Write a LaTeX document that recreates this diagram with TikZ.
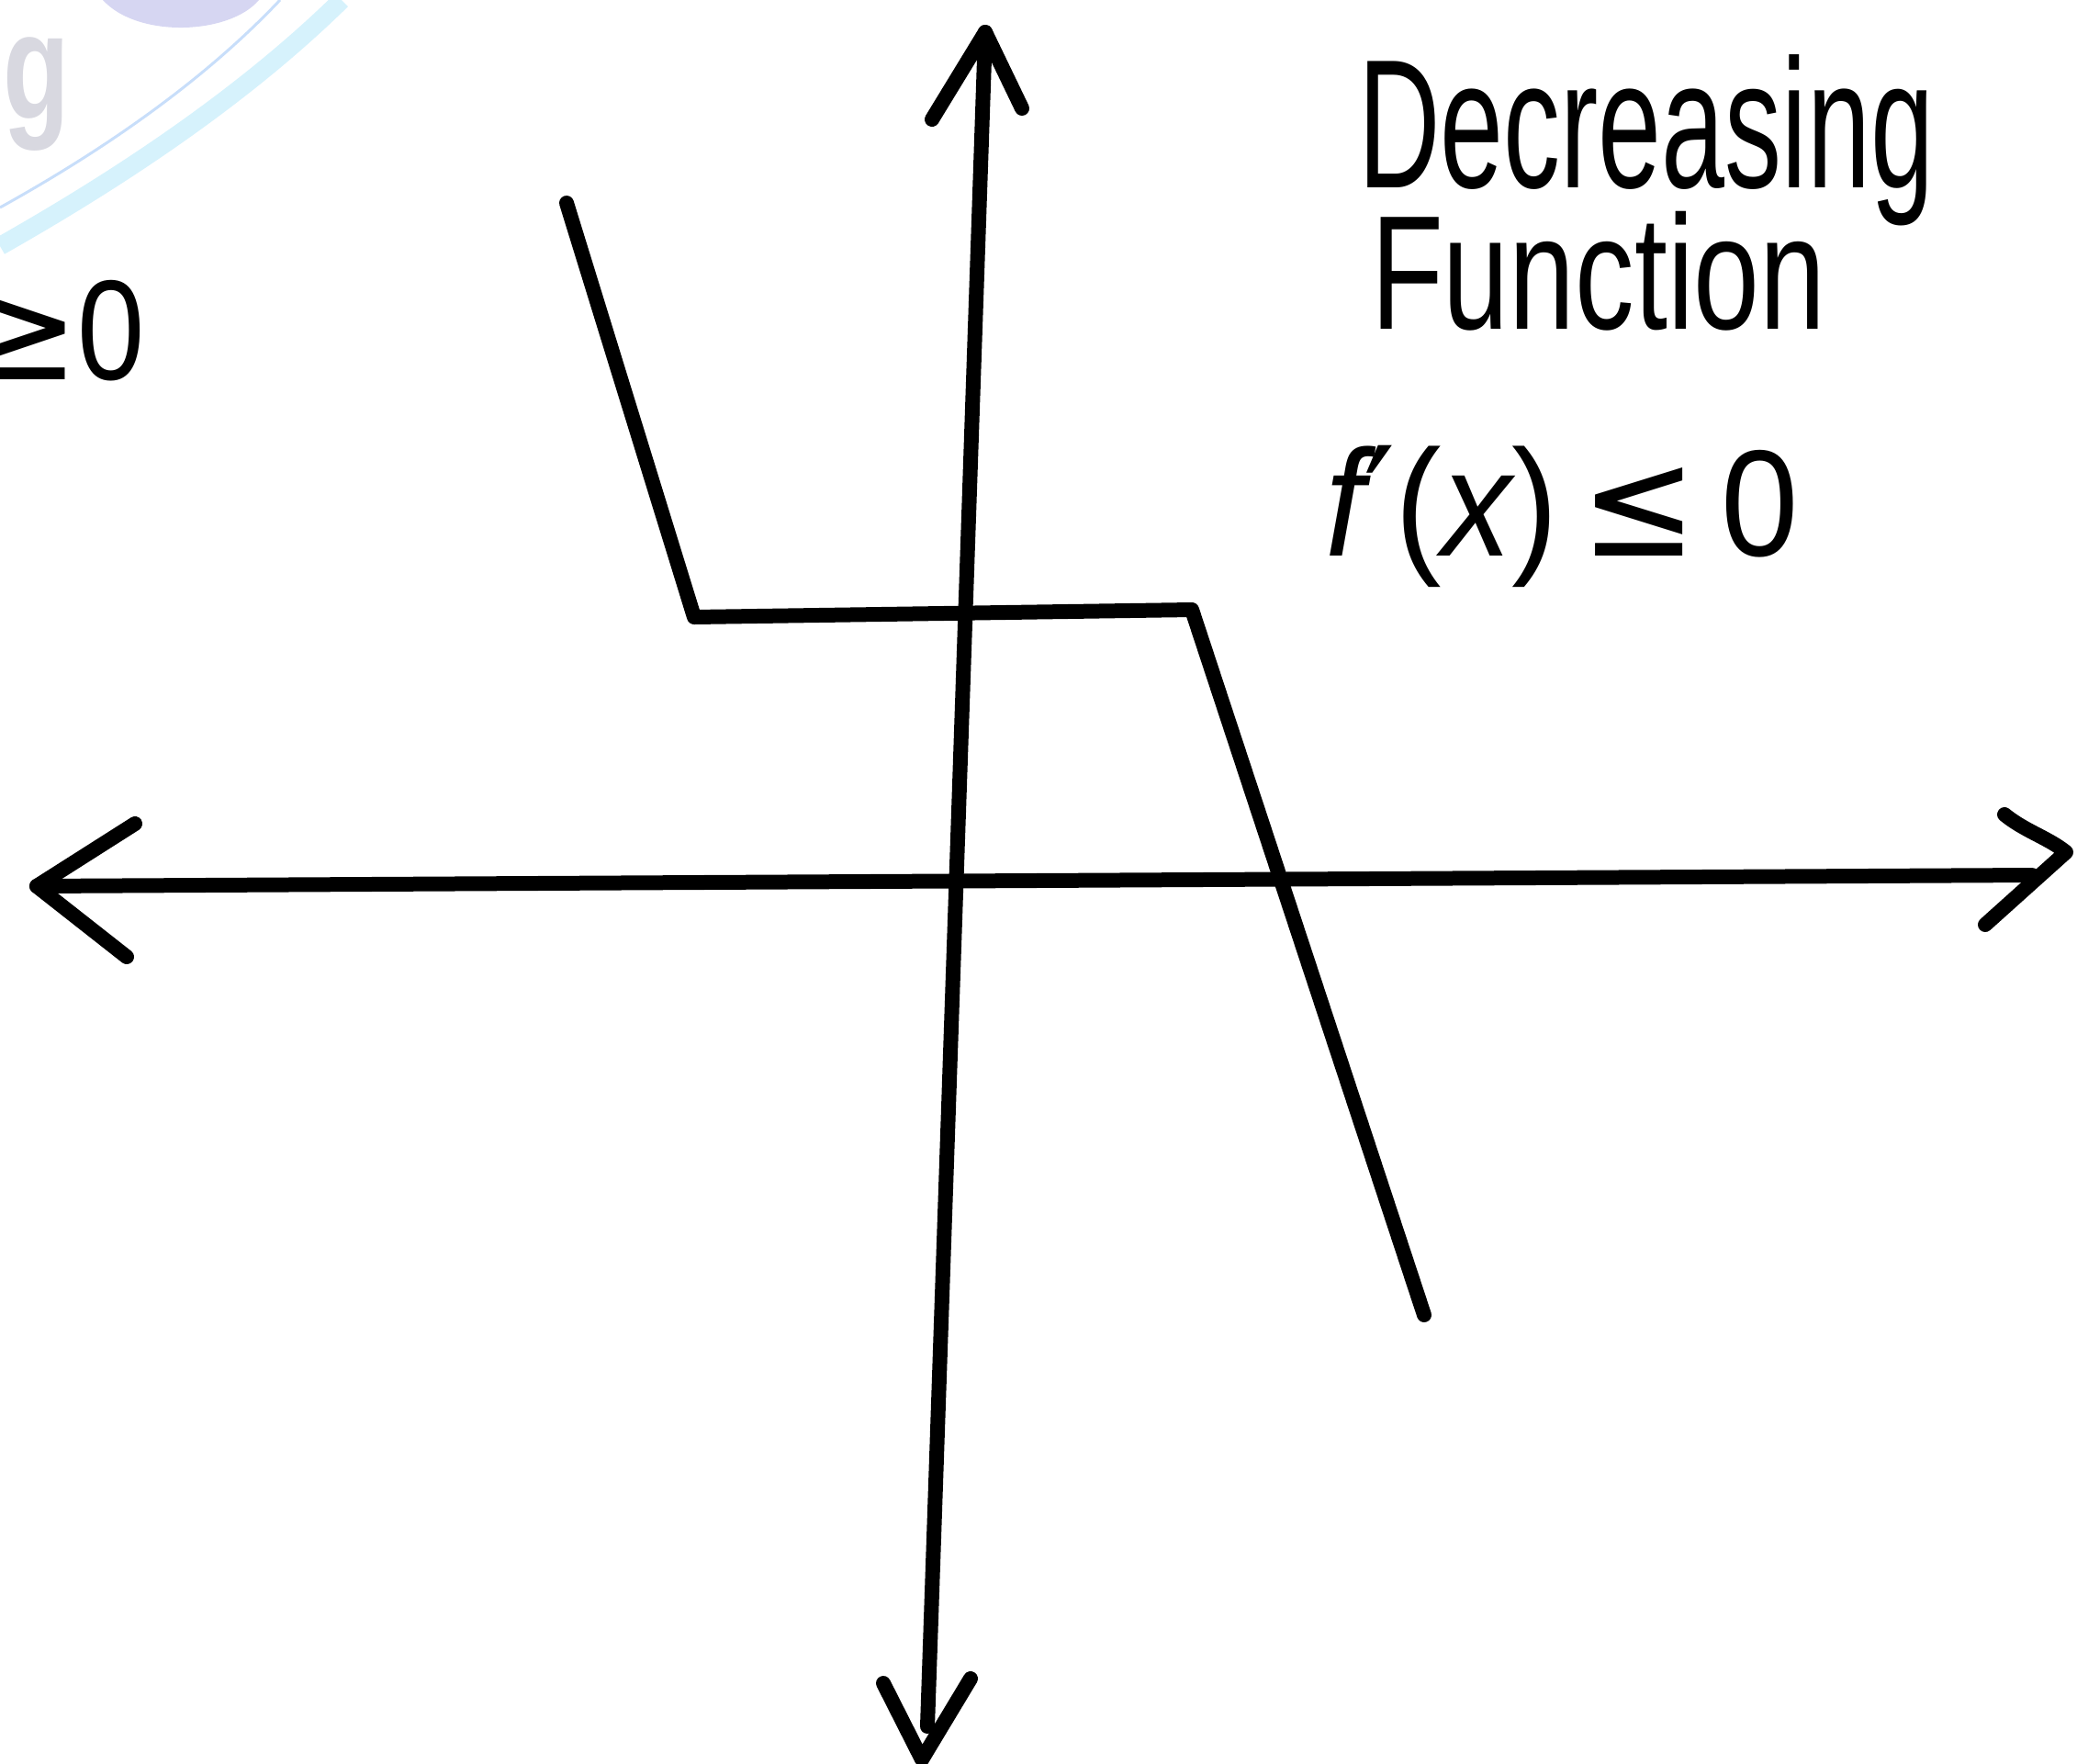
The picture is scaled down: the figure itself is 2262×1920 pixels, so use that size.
\documentclass[tikz,border=0pt]{standalone}
\usepackage{fontspec}
\setmainfont{Liberation Sans}
\newfontfamily\symfont{DejaVu Sans}
\begin{document}
\begin{tikzpicture}[x=1pt,y=-1pt,
  ink/.style={line width=16pt,line cap=round,line join=round,black},
  txt/.style={inner sep=0pt,outer sep=0pt}]
\useasboundingbox (0,0) rectangle (2262,1920);
\clip (0,0) rectangle (2262,1920);
% watermark remnants
\definecolor{wmgray}{RGB}{216,216,224}
\definecolor{wmlav}{RGB}{214,214,242}
\definecolor{wmblue}{RGB}{200,222,250}
\definecolor{wmcyan}{RGB}{214,242,252}
\fill[wmlav] (112,0) .. controls (150,42) and (250,38) .. (282,0) -- cycle;
\draw[wmcyan,line width=20pt] (0,268) .. controls (120,200) and (260,110) .. (372,0);
\draw[wmblue,line width=3pt] (0,226) .. controls (110,165) and (220,90) .. (305,0);
\node[txt,anchor=base west,text=wmgray] (wmg) at (4,129)
  {\scalebox{0.72}[1]{\fontsize{165}{165}\selectfont\bfseries g}};
% cut-off label at left
\node[txt,anchor=base east] (gez) at (158,413)
  {\scalebox{0.85}[1]{\fontsize{155}{155}\selectfont{\symfont ≥}0}};
% axes
\coordinate (xl) at (40,965);
\coordinate (xr) at (2213,953);
\coordinate (yt) at (1073,35);
\coordinate (yb) at (1010,1880);
\draw[ink] (xl) -- (xr);
\draw[ink] (yt) -- (yb);
% hand-drawn arrow heads
\draw[ink] (147,897) -- (xl) -- (138,1042);
\draw[ink] (2183,887) .. controls (2205,905) and (2230,912) .. (2250,928) -- (2162,1007);
\draw[ink] (1015,130) -- (yt) -- (1113,118);
\draw[ink] (962,1833) -- (1004,1916) -- (1057,1828);
% function graph
\coordinate (f0) at (617,221);
\coordinate (f1) at (756,672);
\coordinate (f2) at (1298,664);
\coordinate (f3) at (1551,1432);
\draw[ink] (f0) -- (f1) -- (f2) -- (f3);
% labels
\node[txt,anchor=base west] (dec) at (1479,204)
  {\scalebox{0.62}[1]{\fontsize{200}{200}\selectfont Decreasing}};
\node[txt,anchor=base west] (fun) at (1493,358)
  {\scalebox{0.73}[1]{\fontsize{177}{177}\selectfont Function}};
\node[txt,anchor=base west] (cond) at (1443,605)
  {\scalebox{0.92}[1]{\fontsize{165}{165}\selectfont\itshape f{\upshape\symfont ′}{\upshape(}x{\upshape)\,{\symfont ≤}\,0}}};
\end{tikzpicture}
\end{document}
